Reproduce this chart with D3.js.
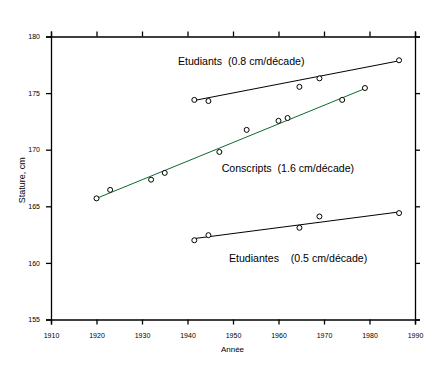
<!DOCTYPE html>
<html>
<head>
<meta charset="utf-8">
<script src="https://cdn.jsdelivr.net/npm/d3@7"></script>
<style>
  body { margin: 0; background: #fff; }
  svg { display: block; font-family: "Liberation Sans", Arial, sans-serif; }
</style>
</head>
<body>
<svg id="chart"></svg>
<script>
// data
const conscriptYears = [1920, 1923, 1932, 1935, 1947, 1953, 1960, 1962, 1974, 1979];
const conscriptValues = [165.7, 166.45, 167.35, 167.95, 169.8, 171.75, 172.55, 172.8, 174.4, 175.45];
const conscriptFit = [[1920, 165.7], [1979, 175.4]];

const etudiantsYears = [1941.5, 1944.6, 1964.6, 1969, 1986.5];
const etudiantsValues = [174.4, 174.3, 175.55, 176.3, 177.9];
const etudiantsFit = [[1941.5, 174.35], [1986.5, 177.85]];

const etudiantesYears = [1941.5, 1944.6, 1964.6, 1969, 1986.5];
const etudiantesValues = [162.0, 162.45, 163.1, 164.1, 164.4];
const etudiantesFit = [[1941.5, 162.15], [1986.5, 164.5]];

const labels = [
  { text: "Etudiants  (0.8 cm/décade)", year: 1937.9, value: 177.45 },
  { text: "Conscripts  (1.6 cm/décade)", year: 1947.5, value: 168.05 },
  { text: "Etudiantes    (0.5 cm/décade)", year: 1949.1, value: 160.05 }
];

const xTicks = [1910, 1920, 1930, 1940, 1950, 1960, 1970, 1980, 1990];
const yTicks = [155, 160, 165, 170, 175, 180];

const W = 442, H = 371;
const margin = { top: 36.5, right: 27, bottom: 51.5, left: 51 };
const width = W - margin.left - margin.right;
const height = H - margin.top - margin.bottom;

const svg = d3.select("#chart").attr("width", W).attr("height", H);
const g = svg.append("g")
  .attr("transform", "translate(" + margin.left + "," + margin.top + ")");

const x = d3.scaleLinear().domain([1910, 1990]).range([0, width]);
const y = d3.scaleLinear().domain([155, 180]).range([height, 0]);

// axes on all four sides, ticks pointing out
g.append("g")
  .attr("transform", "translate(0," + height + ")")
  .call(d3.axisBottom(x).tickValues(xTicks).tickFormat(d3.format("d")).tickSize(5).tickPadding(9));
g.append("g")
  .call(d3.axisLeft(y).tickValues(yTicks).tickFormat(d3.format("d")).tickSize(5).tickPadding(6));
g.append("g")
  .call(d3.axisTop(x).tickValues(xTicks).tickFormat("").tickSize(5));
g.append("g")
  .attr("transform", "translate(" + width + ",0)")
  .call(d3.axisRight(y).tickValues(yTicks).tickFormat("").tickSize(5));

g.selectAll(".domain").attr("stroke", "#000").attr("stroke-width", 1.3);
g.selectAll(".tick line").attr("stroke", "#000").attr("stroke-width", 1.3);
g.selectAll(".tick text").attr("font-size", 7).attr("font-family", "Liberation Sans, Arial, sans-serif").attr("fill", "#000");

// axis titles
g.append("text")
  .attr("x", x(1950) - 0.5)
  .attr("y", height + 32)
  .attr("text-anchor", "middle")
  .attr("font-size", 8)
  .text("Année");

g.append("text")
  .attr("transform", "translate(" + (-26) + "," + y(167.3) + ") rotate(-90)")
  .attr("text-anchor", "middle")
  .attr("font-size", 9)
  .text("Stature, cm");

const line = d3.line().x(d => x(d[0])).y(d => y(d[1]));

function drawSeries(years, values, fit, color) {
  g.append("path")
    .datum(fit)
    .attr("d", line)
    .attr("fill", "none")
    .attr("stroke", color)
    .attr("stroke-width", 1);
  g.append("g").selectAll("circle")
    .data(years.map((yr, i) => [yr, values[i]]))
    .join("circle")
    .attr("cx", d => x(d[0]))
    .attr("cy", d => y(d[1]))
    .attr("r", 2.5)
    .attr("fill", "#fff")
    .attr("stroke", "#000")
    .attr("stroke-width", 1);
}

drawSeries(conscriptYears, conscriptValues, conscriptFit, "#0b6b2c");
drawSeries(etudiantsYears, etudiantsValues, etudiantsFit, "#000");
drawSeries(etudiantesYears, etudiantesValues, etudiantesFit, "#000");

g.append("g").selectAll("text")
  .data(labels)
  .join("text")
  .attr("x", d => x(d.year))
  .attr("y", d => y(d.value))
  .attr("font-size", 10.6)
  .attr("xml:space", "preserve")
  .style("white-space", "pre")
  .text(d => d.text);
</script>
</body>
</html>
